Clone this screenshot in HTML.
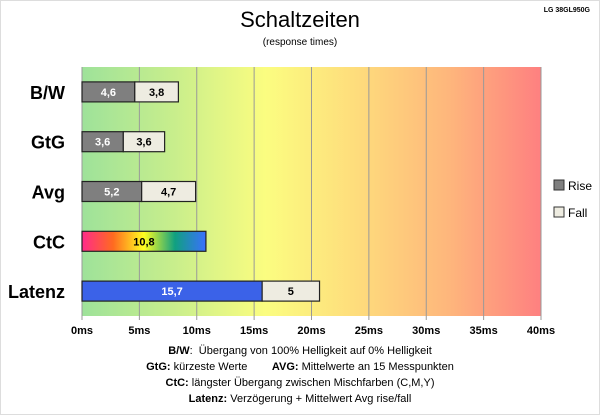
<!DOCTYPE html>
<html><head><meta charset="utf-8"><style>
body{margin:0;background:#fff;font-family:"Liberation Sans",sans-serif}
svg{display:block}
text{font-family:"Liberation Sans",sans-serif}
.fn text{white-space:pre}
</style></head><body>
<svg id="c" width="600" height="415" viewBox="0 0 600 415">
<defs>
<linearGradient id="bg" x1="0" x2="1" y1="0" y2="0">
<stop offset="0" stop-color="#9ee29a"/><stop offset="0.2" stop-color="#c8ee8c"/>
<stop offset="0.4" stop-color="#fbfd80"/><stop offset="0.6" stop-color="#fedc7c"/>
<stop offset="0.8" stop-color="#feb67c"/><stop offset="1" stop-color="#fe8080"/></linearGradient>
<linearGradient id="ctc" x1="0" x2="1"><stop offset="0" stop-color="#ff2a8a"/><stop offset="0.25" stop-color="#ff6a20"/><stop offset="0.5" stop-color="#ffff20"/><stop offset="0.75" stop-color="#10a080"/><stop offset="1" stop-color="#3a70ff"/></linearGradient>
</defs>
<rect x="0.5" y="0.5" width="599" height="414" fill="#fff" stroke="#ddd"/>
<text x="300" y="27" font-size="22" text-anchor="middle">Schaltzeiten</text>
<text x="300" y="45" font-size="10" text-anchor="middle">(response times)</text>
<text x="590" y="12" font-size="7" font-weight="bold" text-anchor="end">LG 38GL950G</text>
<rect x="82" y="67" width="459" height="249" fill="url(#bg)"/>
<g id="grid"></g><g id="bars"></g><g id="labels"></g>
<g>
<rect x="554" y="180" width="10" height="10" fill="#7f7f7f" stroke="#333"/>
<text x="568" y="190" font-size="12">Rise</text>
<rect x="554" y="207" width="10" height="10" fill="#eeece1" stroke="#333"/>
<text x="568" y="217" font-size="12">Fall</text>
</g>
<g class="fn" font-size="11" text-anchor="middle">
<text x="300" y="354"><tspan font-weight="bold">B/W</tspan>:  Übergang von 100% Helligkeit auf 0% Helligkeit</text>
<text x="300" y="370"><tspan font-weight="bold">GtG:</tspan> kürzeste Werte        <tspan font-weight="bold">AVG:</tspan> Mittelwerte an 15 Messpunkten</text>
<text x="300" y="386"><tspan font-weight="bold">CtC:</tspan> längster Übergang zwischen Mischfarben (C,M,Y)</text>
<text x="300" y="402"><tspan font-weight="bold">Latenz:</tspan> Verzögerung + Mittelwert Avg rise/fall</text>
</g>
</svg>
<script>
const categories=["B/W","GtG","Avg","CtC","Latenz"];
const riseValues=[4.6,3.6,5.2,10.8,15.7];
const fallValues=[3.8,3.6,4.7,0,5];
const tickValues=[0,5,10,15,20,25,30,35,40];
const NS="http://www.w3.org/2000/svg";
const x0=82,x1=541,y0=67,y1=316,xmax=40;
const xs=v=>x0+v/xmax*(x1-x0);
const band=(y1-y0)/categories.length;
const yc=i=>y0+band*(i+0.5);
function mk(t,a,p){const e=document.createElementNS(NS,t);for(const k in a)e.setAttribute(k,a[k]);p.appendChild(e);return e;}
const grid=document.getElementById('grid'),bars=document.getElementById('bars'),labels=document.getElementById('labels');
tickValues.forEach(v=>{
 const l=mk('line',{x1:xs(v),x2:xs(v),y1:y0,y2:y1+4,stroke:'#999','stroke-width':1},grid);
 
 
 const t=mk('text',{x:xs(v),y:y1+18,'font-size':11,'font-weight':'bold','text-anchor':'middle'},labels);
 t.textContent=v+'ms';
 
 
});
const ax=mk('line',{x1:x0,x2:x0,y1:y0,y2:y1,stroke:'#999'},grid);


const fmt=v=>String(v).replace('.',',');
categories.forEach((c,i)=>{
 const y=yc(i)-10;
 const t=mk('text',{x:65,y:yc(i)+7,'font-size':18,'font-weight':'bold','text-anchor':'end'},labels);
 t.textContent=c;
 
 
 const fill=c==="CtC"?'url(#ctc)':(c==="Latenz"?'#3b62e8':'#7f7f7f');
 const r=mk('rect',{x:xs(0),y:y,width:xs(riseValues[i])-xs(0),height:20,fill:fill,stroke:'#222','stroke-width':1.2},bars);
 
 
 const tr=mk('text',{x:(xs(0)+xs(riseValues[i]))/2,y:y+14,'font-size':11,'font-weight':'bold','text-anchor':'middle',fill:c==="CtC"?'#000':'#fff'},labels);
 tr.textContent=fmt(riseValues[i]);
 
 
 if(fallValues[i]>0){
  const a=xs(riseValues[i]),b=xs(riseValues[i]+fallValues[i]);
  const f=mk('rect',{x:a,y:y,width:b-a,height:20,fill:'#eeece1',stroke:'#222','stroke-width':1.2},bars);
  
  
  const tf=mk('text',{x:(a+b)/2,y:y+14,'font-size':11,'font-weight':'bold','text-anchor':'middle'},labels);
  tf.textContent=fmt(fallValues[i]);
  
  
 }
});
</script>
</body></html>
